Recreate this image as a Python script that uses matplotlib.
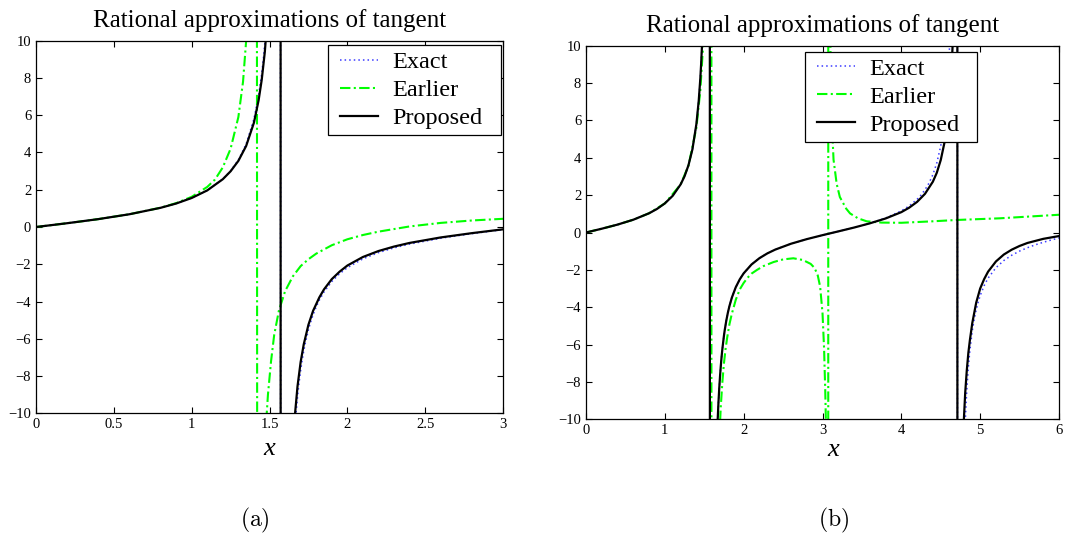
import matplotlib
matplotlib.use("Agg")
import numpy as np
import matplotlib.pyplot as plt
from matplotlib.lines import Line2D
from matplotlib.legend_handler import HandlerLine2D

plt.rcParams['font.family'] = ['Liberation Serif', 'DejaVu Serif']
plt.rcParams['mathtext.fontset'] = 'cm'

# ---------------- data ----------------
# Exact tangent (shared by both panels)
exact_x = [0.0, 0.2, 0.4, 0.6, 0.8, 0.9, 1.0, 1.1, 1.2, 1.25, 1.3, 1.35, 1.4, 1.43, 1.45,
           1.46, 1.47, 1.48, 1.49, 1.51, 1.52, 1.55, 1.565, 1.577, 1.59, 1.62, 1.65, 1.66,
           1.67, 1.68, 1.69, 1.70, 1.71, 1.72, 1.73, 1.75, 1.76, 1.78, 1.8, 1.82, 1.85,
           1.9, 1.95, 2.0, 2.1, 2.2, 2.3, 2.4, 2.6, 2.8, 3.0, 3.2, 3.4, 3.6, 3.8, 4.0,
           4.1, 4.2, 4.25, 4.3, 4.35, 4.4, 4.45, 4.5, 4.55, 4.58, 4.6, 4.62, 4.64, 4.66,
           4.69, 4.706, 4.718, 4.74, 4.77, 4.79, 4.8, 4.81, 4.82, 4.83, 4.85, 4.87, 4.9,
           4.92, 4.95, 4.97, 5.0, 5.05, 5.1, 5.2, 5.3, 5.4, 5.5, 5.6, 5.7, 5.8, 5.9, 6.0]
exact_y = [0.0, 0.2027, 0.4228, 0.6841, 1.0296, 1.2602, 1.5574, 1.9648, 2.5722, 3.0096,
           3.6021, 4.4552, 5.7979, 7.055, 8.238, 8.988, 9.887, 10.98, 12.35, 16.43, 19.67,
           48.08, 172.4, -161.3, -52.07, -20.31, -12.60, -11.18, -10.05, -9.12, -8.35,
           -7.70, -7.14, -6.65, -6.23, -5.52, -5.22, -4.71, -4.286, -3.93, -3.488, -2.927,
           -2.51, -2.185, -1.710, -1.374, -1.119, -0.916, -0.602, -0.356, -0.1425, 0.0585,
           0.2643, 0.4935, 0.7736, 1.1578, 1.4235, 1.7778, 2.006, 2.2884, 2.637, 3.0957,
           3.723, 4.6373, 6.104, 7.509, 8.860, 10.79, 13.79, 19.07, 44.64, 156.3, -178.6,
           -36.22, -17.34, -12.86, -11.39, -10.21, -9.26, -8.46, -7.22, -6.29, -5.267,
           -4.75, -4.129, -3.80, -3.3805, -2.85, -2.444, -1.886, -1.50, -1.218, -0.995,
           -0.814, -0.659, -0.525, -0.403, -0.291]

# Panel (a): earlier approximation
earlier_a_x = [0.0, 0.2, 0.4, 0.6, 0.8, 0.9, 1.0, 1.1, 1.15, 1.2, 1.25, 1.3, 1.33, 1.35,
               1.36, 1.38, 1.40, 1.415, 1.425, 1.44, 1.46, 1.48, 1.49, 1.51, 1.53, 1.56,
               1.6, 1.65, 1.7, 1.75, 1.8, 1.9, 2.0, 2.1, 2.2, 2.4, 2.6, 2.8, 3.0]
earlier_a_y = [0.0, 0.2027, 0.4228, 0.685, 1.035, 1.28, 1.62, 2.15, 2.55, 3.2, 4.2, 5.9,
               7.8, 10.0, 12.0, 15.5, 24.0, 80.0, -80.0, -25.0, -15.0, -10.3, -9.0, -7.2,
               -5.8, -4.5, -3.45, -2.65, -2.1, -1.73, -1.43, -0.98, -0.66, -0.43, -0.25,
               0.03, 0.22, 0.35, 0.44]

# Panel (a): proposed approximation
proposed_a_x = [0.0, 0.2, 0.4, 0.6, 0.8, 0.9, 1.0, 1.1, 1.2, 1.25, 1.3, 1.35, 1.4, 1.43,
                1.45, 1.47, 1.49, 1.52, 1.55, 1.568, 1.575, 1.59, 1.62, 1.64, 1.66, 1.68,
                1.70, 1.72, 1.75, 1.78, 1.82, 1.85, 1.9, 1.95, 2.0, 2.1, 2.2, 2.3, 2.4,
                2.6, 2.8, 3.0]
proposed_a_y = [0.0, 0.2027, 0.4228, 0.6841, 1.0296, 1.26, 1.557, 1.964, 2.565, 2.99,
                3.55, 4.35, 5.6, 6.8, 7.9, 9.4, 11.6, 18.0, 42.0, 250.0, -250.0, -48.0,
                -19.0, -14.2, -10.4, -8.55, -7.25, -6.3, -5.25, -4.5, -3.78, -3.35, -2.8,
                -2.4, -2.07, -1.61, -1.29, -1.05, -0.855, -0.56, -0.33, -0.125]

# Panel (b): earlier approximation
earlier_b_x = [0.0, 0.2, 0.4, 0.6, 0.8, 1.0, 1.2, 1.3, 1.4, 1.45, 1.5, 1.55, 1.58, 1.588,
               1.594, 1.62, 1.66, 1.70, 1.71, 1.73, 1.75, 1.77, 1.79, 1.82, 1.85, 1.9,
               1.95, 2.0, 2.05, 2.1, 2.17, 2.25, 2.38, 2.5, 2.63, 2.75, 2.85, 2.9, 2.94,
               2.97, 3.0, 3.02, 3.035, 3.045, 3.06, 3.07, 3.076, 3.085, 3.095, 3.105,
               3.12, 3.14, 3.18, 3.22, 3.3, 3.35, 3.45, 3.56, 3.75, 4.0, 4.4, 4.7, 5.25,
               6.0]
earlier_b_y = [0.0, 0.2027, 0.4228, 0.6841, 1.03, 1.557, 2.57, 3.58, 5.6, 7.6, 11.0, 20.0,
               60.0, 250.0, -250.0, -45.0, -17.0, -10.2, -9.3, -8.0, -7.0, -6.25, -5.65,
               -4.9, -4.35, -3.6, -3.05, -2.7, -2.42, -2.2, -2.0, -1.8, -1.58, -1.44,
               -1.38, -1.47, -1.68, -1.9, -2.3, -2.9, -4.3, -6.2, -8.5, -10.5, -25.0,
               -250.0, 250.0, 25.0, 12.0, 8.5, 5.8, 3.9, 2.6, 1.9, 1.28, 1.02, 0.76, 0.6,
               0.53, 0.52, 0.6, 0.67, 0.76, 0.95]

# Panel (b): proposed approximation
proposed_b_x = [0.0, 0.2, 0.4, 0.6, 0.8, 0.9, 1.0, 1.1, 1.2, 1.25, 1.3, 1.35, 1.4, 1.43,
                1.45, 1.46, 1.47, 1.48, 1.49, 1.51, 1.52, 1.55, 1.565, 1.577, 1.59, 1.62,
                1.65, 1.66, 1.67, 1.68, 1.69, 1.70, 1.71, 1.72, 1.73, 1.75, 1.76, 1.78,
                1.8, 1.82, 1.85, 1.9, 1.95, 2.0, 2.1, 2.2, 2.3, 2.4, 2.6, 2.8, 3.0, 3.2,
                3.4, 3.6, 3.8, 4.0, 4.1, 4.2, 4.3, 4.4, 4.45, 4.5, 4.55, 4.6, 4.63, 4.66,
                4.69, 4.70, 4.708, 4.714, 4.73, 4.76, 4.78, 4.79, 4.81, 4.83, 4.85, 4.87,
                4.9, 4.95, 5.0, 5.05, 5.1, 5.2, 5.3, 5.4, 5.5, 5.6, 5.8, 6.0]
proposed_b_y = [0.0, 0.2027, 0.4228, 0.6841, 1.0296, 1.2602, 1.5574, 1.9648, 2.5722, 3.0096,
                3.6021, 4.4552, 5.7979, 7.055, 8.238, 8.988, 9.887, 10.98, 12.35, 16.43,
                19.67, 48.08, 172.4, -161.3, -52.07, -20.31, -12.60, -11.18, -10.05, -9.12,
                -8.35, -7.70, -7.14, -6.65, -6.23, -5.52, -5.22, -4.71, -4.286, -3.93,
                -3.488, -2.927, -2.51, -2.185, -1.710, -1.374, -1.119, -0.916, -0.602,
                -0.356, -0.1425, 0.0585, 0.2643, 0.49, 0.75, 1.09, 1.33, 1.64, 2.07, 2.72,
                3.2, 3.88, 4.87, 6.5, 8.1, 10.9, 20.0, 40.0, 200.0, -200.0, -45.0, -18.0,
                -11.8, -10.3, -8.6, -7.4, -6.45, -5.75, -4.85, -3.75, -3.0, -2.5, -2.1,
                -1.55, -1.18, -0.92, -0.72, -0.56, -0.34, -0.19]

series_labels = ['Exact', 'Earlier', 'Proposed']
title_text = 'Rational approximations of tangent'
xticks_a = [0, 0.5, 1, 1.5, 2, 2.5, 3]
xticklabels_a = ['0', '0.5', '1', '1.5', '2', '2.5', '3']
xticks_b = [0, 1, 2, 3, 4, 5, 6]
xticklabels_b = ['0', '1', '2', '3', '4', '5', '6']
yticks = [-10, -8, -6, -4, -2, 0, 2, 4, 6, 8, 10]
yticklabels = ['\u221210', '\u22128', '\u22126', '\u22124', '\u22122', '0', '2', '4', '6', '8', '10']
panel_labels = ['(a)', '(b)']

# ---------------- figure ----------------
W, H = 1068, 535
fig = plt.figure(figsize=(W / 100, H / 100), dpi=100)
fig.patch.set_facecolor('white')

axA = fig.add_axes([36 / W, 1 - 413.3 / H, 467 / W, 372.6 / H])
axB = fig.add_axes([586 / W, 1 - 419.3 / H, 473 / W, 373.6 / H])

exact_style = dict(color='#3a3aff', lw=1.1, linestyle=(0, (1, 2)))
earlier_style = dict(color='#00ff00', lw=1.5, linestyle=(0, (5, 1.6, 1, 1.6)))
proposed_style = dict(color='black', lw=1.6, linestyle='-')

panels = [
    (axA, exact_x, exact_y, earlier_a_x, earlier_a_y, proposed_a_x, proposed_a_y,
     (0, 3), xticks_a, xticklabels_a, 9.7, (0.5, -0.0958)),
    (axB, exact_x, exact_y, earlier_b_x, earlier_b_y, proposed_b_x, proposed_b_y,
     (0, 6), xticks_b, xticklabels_b, 10.1, ((833 - 586) / 473, -0.082)),
]

for (ax, ex, ey, eax, eay, px, py, xlim, xt, xtl, tpad, xlab_pos) in panels:
    ax.plot(ex, ey, label=series_labels[0], **exact_style)
    ax.plot(eax, eay, label=series_labels[1], **earlier_style)
    ax.plot(px, py, label=series_labels[2], **proposed_style)
    ax.set_xlim(*xlim)
    ax.set_ylim(-10, 10)
    ax.set_xticks(xt)
    ax.set_xticklabels(xtl)
    ax.set_yticks(yticks)
    ax.set_yticklabels(yticklabels)
    ax.tick_params(direction='in', top=True, right=True, length=4, width=0.8,
                   labelsize=10.5, pad=3.5)
    for s in ax.spines.values():
        s.set_linewidth(0.9)
    ax.set_title(title_text, fontsize=18, pad=tpad)
    ax.set_xlabel('x', fontsize=19, fontstyle='italic', va='center')
    ax.xaxis.set_label_coords(*xlab_pos)

leg_kw = dict(loc='upper left', mode='expand', borderaxespad=0, fontsize=17.5,
              frameon=True, fancybox=False, framealpha=1, edgecolor='black',
              handlelength=1.81, handletextpad=0.58, borderpad=0.25, labelspacing=0.25,
              handler_map={Line2D: HandlerLine2D(xpad=0.25)})
legA = axA.legend(bbox_to_anchor=((328 - 36) / 467, 0.0, 173 / 467, (413.3 - 45) / 372.6),
                  **leg_kw)
legB = axB.legend(bbox_to_anchor=((805 - 586) / 473, 0.0, 172 / 473, (419.3 - 51.7) / 373.6),
                  **leg_kw)
for leg in (legA, legB):
    leg.get_frame().set_linewidth(0.9)

fig.text(255 / W, 1 - 520 / H, r'$\mathrm{' + panel_labels[0] + '}$', ha='center',
         va='center', fontsize=17)
fig.text(834 / W, 1 - 520 / H, r'$\mathrm{' + panel_labels[1] + '}$', ha='center',
         va='center', fontsize=17)

fig.savefig('out.png', dpi=100, facecolor='white')
